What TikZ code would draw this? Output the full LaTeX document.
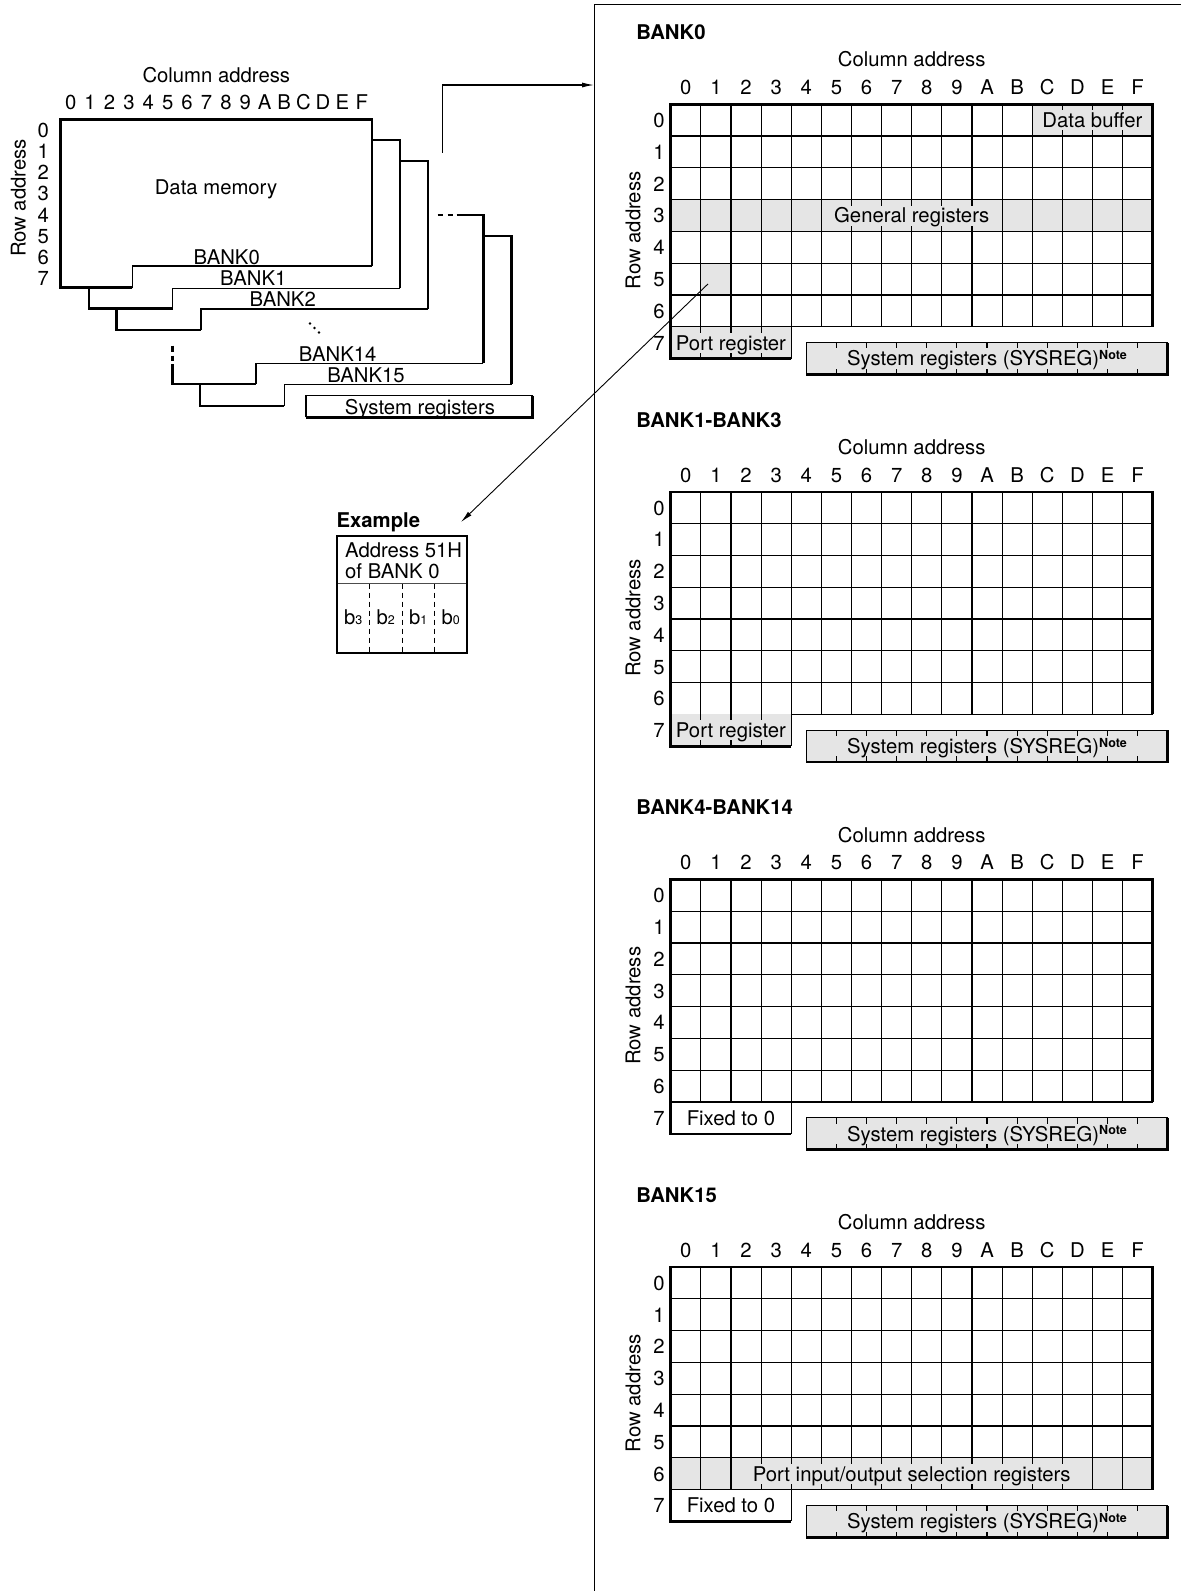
\documentclass[tikz,border=0pt]{standalone}
\usepackage{fontspec}
\setmainfont{TeX Gyre Heros}
\usetikzlibrary{arrows.meta}
\definecolor{cellgray}{RGB}{229,229,229}
\newcommand\txtsize{\fontsize{20.3}{24}\selectfont}
\newcommand\notesup{\raisebox{6.5pt}{\fontsize{12.5}{13}\selectfont\bfseries Note}}
\newcommand\subdig[1]{{\fontsize{12.5}{13}\selectfont #1}}
\tikzset{
  thinln/.style={line width=1.1pt, draw=black},
  thickln/.style={line width=2.6pt, draw=black},
  gridsec/.style={shift={(670.7pt,-#1pt)}, x=30.125pt, y=-31.8pt},
  cellbox/.style={fill=#1, inner xsep=3pt, inner ysep=0pt, minimum height=20pt},
  arr/.style={-{Latex[length=12pt,width=5pt]}}
}
% section header: title, column/row numbers
\newcommand\sechead[2]{%
  \node[anchor=west, font=\txtsize\bfseries] (title#1) at (-1.15,-2.26) {#2};
  \node (colad#1) at (8,-1.4) {Column address};
  \foreach \dd [count=\ii from 0] in {0,1,2,3,4,5,6,7,8,9,A,B,C,D,E,F}
    \node (col#1-\ii) at (\ii+0.5,-0.535) {\dd};
  \foreach \rx in {0,...,7}
    \node (row#1-\rx) at (-0.39,\rx+0.5) {\rx};
  \node[rotate=90] (rowad#1) at (-1.25,3.97) {Row address};
}
% thin grid lines
\newcommand\secgrid{%
  \foreach \rx in {1,...,7} \draw[thinln] (0,\rx) -- (16,\rx);
  \foreach \cx in {1,...,15} \draw[thinln] (\cx,0) -- (\cx,7);
  \draw[thinln] (4,7) -- (4,8);
}
\newcommand\secborder{%
  \draw[thickln] (4,8) -- (0,8) -- (0,0) -- (16,0) -- (16,7);
}
\newcommand\secsys[1]{%
  \fill[cellgray] (4.5,7.5) rectangle (16.5,8.5);
  \foreach \cx in {5.5,6.5,7.5,8.5,9.5,10.5,11.5,12.5,13.5,14.5,15.5}
    \draw[thinln] (\cx,7.5) -- (\cx,7.68) (\cx,8.5) -- (\cx,8.32);
  \draw[thinln] (4.5,8.5) -- (4.5,7.5) -- (16.5,7.5);
  \draw[thickln] (16.5,7.5) -- (16.5,8.5) -- (4.5,8.5);
  \node (sys#1) at (10.5,8) {System registers (SYSREG)\notesup};
}
\newcommand\portreg[1]{%
  \fill[cellgray] (0,7) rectangle (4,8);
  \foreach \cx in {1,2,3} \draw[thinln] (\cx,7) -- (\cx,8);
  \node[cellbox=cellgray] (port#1) at (2,7.5) {Port register};
}
\newcommand\fixedzero[1]{%
  \node[cellbox=white] (fix#1) at (2,7.5) {Fixed to 0};
}
\begin{document}
\begin{tikzpicture}[x=1pt, y=-1pt,
  every node/.style={inner sep=0pt, text height=14.6pt, text depth=0pt, font=\txtsize}]
\useasboundingbox[fill=white] (0,0) rectangle (1181,1591);

% ---------------- right frame ----------------
\draw[thinln] (1185,4.7) -- (594.5,4.7) -- (594.5,1595);

% ---------------- BANK0 ----------------
\begin{scope}[gridsec=104.2]
  \fill[cellgray] (12,0) rectangle (16,1);
  \fill[cellgray] (0,3) rectangle (16,4);
  \fill[cellgray] (1,5) rectangle (2,6);
  \secgrid
  \portreg{0}
  \node[cellbox=cellgray] (dbuf) at (14,0.5) {Data buffer};
  \node[cellbox=cellgray] (genreg) at (8,3.5) {General registers};
  \secborder
  \secsys{0}
  \sechead{0}{BANK0}
  \coordinate (cell51) at (1.24,5.65);
\end{scope}

% ---------------- BANK1-BANK3 ----------------
\begin{scope}[gridsec=491.8]
  \secgrid
  \portreg{1}
  \secborder
  \secsys{1}
  \sechead{1}{BANK1-BANK3}
\end{scope}

% ---------------- BANK4-BANK14 ----------------
\begin{scope}[gridsec=879.4]
  \secgrid
  \fixedzero{2}
  \secborder
  \secsys{2}
  \sechead{2}{BANK4-BANK14}
\end{scope}

% ---------------- BANK15 ----------------
\begin{scope}[gridsec=1267.0]
  \fill[cellgray] (0,6) rectangle (16,7);
  \secgrid
  \fixedzero{3}
  \node[cellbox=cellgray] (pio) at (8,6.5) {Port input/output selection registers};
  \secborder
  \secsys{3}
  \sechead{3}{BANK15}
\end{scope}

% ---------------- left: data memory stack ----------------
\node (lcolad) at (216.3,75) {Column address};
\foreach \dd [count=\ii from 0] in {0,1,2,3,4,5,6,7,8,9,A,B,C,D,E,F}
  \node (lcol-\ii) at (70.7+19.4*\ii,101.7) {\dd};
\foreach \rx in {0,...,7}
  \node (lrow-\rx) at (43.3,130+21.18*\rx) {\rx};
\node[rotate=90] (lrowad) at (18.3,198) {Row address};
\node (dmem) at (216,186.7) {Data memory};

% BANK0
\draw[thickln] (132.3,287.7) -- (60.7,287.7) -- (60.7,119.3) -- (372,119.3) -- (372,266);
\draw[thinln] (372,266) -- (132.3,266) -- (132.3,287.7);
% BANK1
\draw[thickln] (89,287.7) -- (89,308.3) -- (172.7,308.3);
\draw[thickln] (372,140) -- (400,140) -- (400,288.3);
\draw[thinln] (400,288.3) -- (172.7,288.3) -- (172.7,308.3);
% BANK2
\draw[thickln] (116.7,308.3) -- (116.7,330) -- (201,330);
\draw[thickln] (400,161) -- (428,161) -- (428,309);
\draw[thinln] (428,309) -- (201,309) -- (201,330);
% BANK14
\draw[thickln] (172.3,345.5) -- (172.3,352) (172.3,355.5) -- (172.3,361);
\draw[thickln] (172.3,364) -- (172.3,384) -- (256,384);
\draw[thickln] (437.7,215) -- (443.3,215) (447.7,215) -- (453.3,215);
\draw[thickln] (456.5,215) -- (483.3,215) -- (483.3,363.3);
\draw[thinln] (483.3,363.3) -- (256,363.3) -- (256,384);
% BANK15
\draw[thickln] (200,384) -- (200,406) -- (284.3,406);
\draw[thickln] (483.3,236) -- (511.5,236) -- (511.5,384.3);
\draw[thinln] (511.5,384.3) -- (284.3,384.3) -- (284.3,406);
% dots
\fill (310,323.5) circle (1.3) (314.5,328) circle (1.3) (319,332.5) circle (1.3);
% bank labels
\node[anchor=base] (lb0) at (226.7,264) {BANK0};
\node[anchor=base] (lb1) at (253.3,285.6) {BANK1};
\node[anchor=base] (lb2) at (282.7,306.6) {BANK2};
\node[anchor=base] (lb14) at (337.7,361.3) {BANK14};
\node[anchor=base] (lb15) at (366,382.3) {BANK15};
% system registers box
\draw[thinln] (306,417.3) -- (306,395.7) -- (532.7,395.7);
\draw[thickln] (532.7,395.7) -- (532.7,417.3) -- (306,417.3);
\node (lsys) at (420,406.7) {System registers};

% arrow to BANK0 panel
\coordinate (dmout) at (442.7,152.7);
\coordinate (bank0in) at (594,85);
\draw[thinln, arr] (dmout) |- (bank0in);

% ---------------- example ----------------
\node[anchor=west, font=\txtsize\bfseries] (exlabel) at (336.5,520.5) {Example};
\draw[thinln, draw=black!70] (337,583.5) -- (467,583.5);
\foreach \xx in {369.5,402,434.5}
  \draw[line width=0.9pt, dash pattern=on 5pt off 4pt] (\xx,583.5) -- (\xx,653);
\draw[thickln] (337,536) rectangle (467,653);
\node[anchor=west] (exaddr) at (345,550.5) {Address 51H};
\node[anchor=west] (exbank) at (345,571.5) {of BANK 0};
\node (exb3) at (353.25,617) {b\subdig{3}};
\node (exb2) at (385.75,617) {b\subdig{2}};
\node (exb1) at (418.25,617) {b\subdig{1}};
\node (exb0) at (450.75,617) {b\subdig{0}};
\coordinate (extip) at (461,522);
\draw[line width=0.9pt, arr] (cell51) -- (extip);
\end{tikzpicture}
\end{document}
